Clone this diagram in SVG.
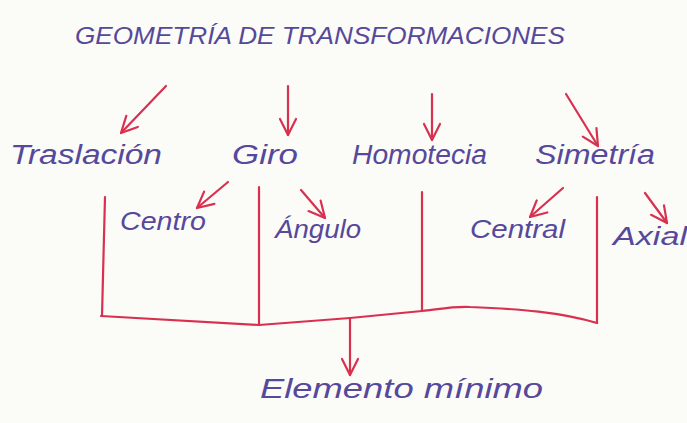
<svg xmlns="http://www.w3.org/2000/svg" width="687" height="423" viewBox="0 0 687 423">
<style>
.t{font-family:"Liberation Sans","DejaVu Sans",sans-serif;font-style:italic;fill:#56489a;font-weight:normal}
.ttl{font-size:24px}
.l1{font-size:27px}
.l2{font-size:25px}
.c{stroke:#d9304f;stroke-width:2.2;fill:none;stroke-linecap:round;stroke-linejoin:round}
</style>
<defs>
<marker id="ah" viewBox="0 0 20 20" refX="18" refY="10" markerWidth="20" markerHeight="20" markerUnits="userSpaceOnUse" orient="auto">
<path d="M2,2 L18,10 L2,18" fill="none" stroke="#d9304f" stroke-width="2.2" stroke-linecap="round" stroke-linejoin="round"/>
</marker>
</defs>
<rect width="687" height="423" fill="#fbfbf8"/>
<g id="title"><text class="t ttl" x="75" y="44" textLength="490" lengthAdjust="spacingAndGlyphs">GEOMETRÍA DE TRANSFORMACIONES</text></g>
<g id="traslacion"><text class="t l1" x="10" y="164" textLength="152" lengthAdjust="spacingAndGlyphs">Traslación</text></g>
<g id="giro"><text class="t l1" x="232" y="164" textLength="66" lengthAdjust="spacingAndGlyphs">Giro</text></g>
<g id="homotecia"><text class="t l1" x="352" y="164" textLength="135" lengthAdjust="spacingAndGlyphs">Homotecia</text></g>
<g id="simetria"><text class="t l1" x="535" y="164" textLength="120" lengthAdjust="spacingAndGlyphs">Simetría</text></g>
<g id="centro"><text class="t l2" x="120" y="230" textLength="86" lengthAdjust="spacingAndGlyphs">Centro</text></g>
<g id="angulo"><text class="t l2" x="275" y="238" textLength="86" lengthAdjust="spacingAndGlyphs">Ángulo</text></g>
<g id="central"><text class="t l2" x="470" y="238" textLength="95" lengthAdjust="spacingAndGlyphs">Central</text></g>
<g id="axial"><text class="t l2" x="613" y="245" textLength="74" lengthAdjust="spacingAndGlyphs">Axial</text></g>
<g id="elemento"><text class="t l1" x="260" y="398" textLength="283" lengthAdjust="spacingAndGlyphs">Elemento mínimo</text></g>
<g id="connectors">
<line class="c" x1="166" y1="86" x2="121" y2="133" marker-end="url(#ah)"/>
<line class="c" x1="288" y1="86" x2="288" y2="135" marker-end="url(#ah)"/>
<line class="c" x1="432" y1="94" x2="432" y2="140" marker-end="url(#ah)"/>
<line class="c" x1="566" y1="94" x2="598" y2="146" marker-end="url(#ah)"/>
<line class="c" x1="228" y1="182" x2="197" y2="208" marker-end="url(#ah)"/>
<line class="c" x1="301" y1="190" x2="325" y2="218" marker-end="url(#ah)"/>
<line class="c" x1="563" y1="188" x2="530" y2="217" marker-end="url(#ah)"/>
<line class="c" x1="645" y1="193" x2="667" y2="223" marker-end="url(#ah)"/>
<line class="c" x1="105" y1="197" x2="102" y2="316"/>
<line class="c" x1="259" y1="187" x2="259" y2="325"/>
<line class="c" x1="422" y1="192" x2="422" y2="311"/>
<line class="c" x1="597" y1="197" x2="597" y2="323"/>
<path class="c" d="M101,316 L259,325 L350,318 L422,311 C440,309 455,306 470,307 C520,309 560,312 597,323"/>
<line class="c" x1="350" y1="318" x2="350" y2="375" marker-end="url(#ah)"/>
</g>
</svg>
